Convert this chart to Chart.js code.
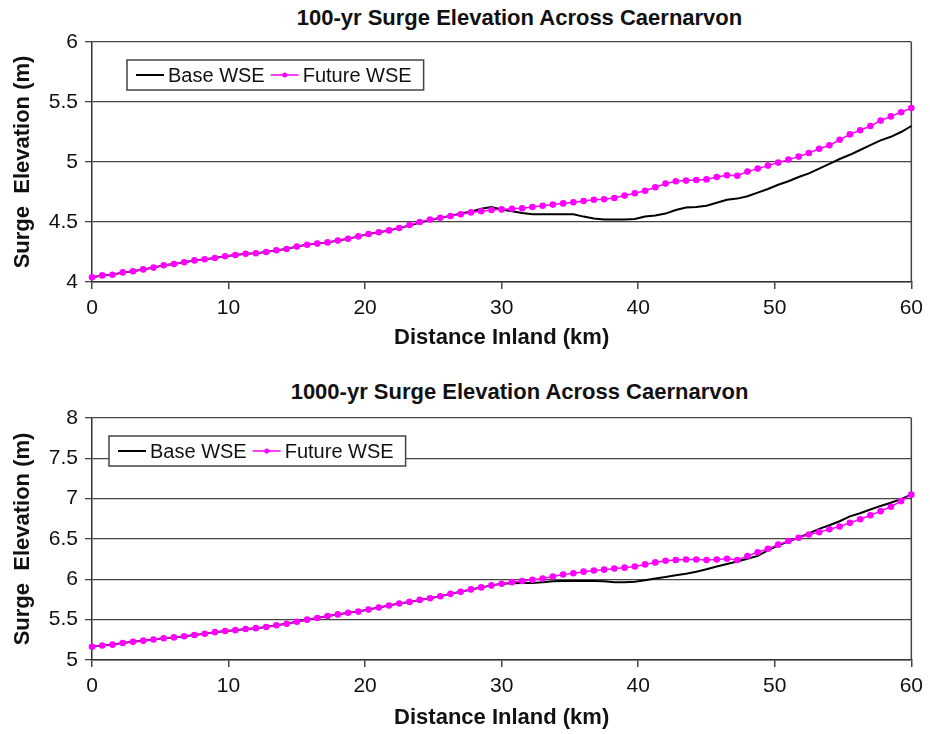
<!DOCTYPE html>
<html>
<head>
<meta charset="utf-8">
<script src="https://cdn.jsdelivr.net/npm/chart.js@4.4.0/dist/chart.umd.min.js"></script>
<style>
	html, body { margin: 0; padding: 0; background: #fff; overflow: hidden; }
	#page { position: relative; width: 930px; height: 734px; }
	.chart-title {
		position: absolute; left: 119px; width: 801px; text-align: center;
		font: bold 22px "Liberation Sans", Arial, sans-serif; line-height: 26px; color: #111;
	}
	canvas { position: absolute; left: 0; }
</style>
</head>
<body>
<div id="page">
	<div class="chart-title" style="top:5px">100-yr Surge Elevation Across Caernarvon</div>
	<canvas id="chart100" width="930" height="352" style="top:0"></canvas>
	<div class="chart-title" style="top:379px">1000-yr Surge Elevation Across Caernarvon</div>
	<canvas id="chart1000" width="930" height="369" style="top:365px"></canvas>
</div>
<script>
// distance inland (km) of each sample along the transect
var distanceKm = [
	0, 0.75, 1.5, 2.25, 3, 3.75, 4.5, 5.25, 6, 6.75,
	7.5, 8.25, 9, 9.75, 10.5, 11.25, 12, 12.75, 13.5, 14.25,
	15, 15.75, 16.5, 17.25, 18, 18.75, 19.5, 20.25, 21, 21.75,
	22.5, 23.25, 24, 24.75, 25.5, 26.25, 27, 27.75, 28.5, 29.25,
	30, 30.75, 31.5, 32.25, 33, 33.75, 34.5, 35.25, 36, 36.75,
	37.5, 38.25, 39, 39.75, 40.5, 41.25, 42, 42.75, 43.5, 44.25,
	45, 45.75, 46.5, 47.25, 48, 48.75, 49.5, 50.25, 51, 51.75,
	52.5, 53.25, 54, 54.75, 55.5, 56.25, 57, 57.75, 58.5, 59.25,
	60
];

// 100-yr surge elevation (m)
var base100 = [
	4.04, 4.055, 4.06, 4.08, 4.09, 4.105, 4.12, 4.14, 4.15, 4.165,
	4.18, 4.19, 4.20, 4.215, 4.225, 4.235, 4.24, 4.25, 4.265, 4.275,
	4.295, 4.31, 4.32, 4.33, 4.345, 4.36, 4.38, 4.40, 4.415, 4.43,
	4.45, 4.47, 4.495, 4.515, 4.535, 4.55, 4.57, 4.585, 4.61, 4.625,
	4.605, 4.59, 4.575, 4.565, 4.565, 4.565, 4.565, 4.565, 4.545, 4.53,
	4.52, 4.52, 4.52, 4.525, 4.545, 4.555, 4.57, 4.60, 4.62, 4.625,
	4.635, 4.66, 4.685, 4.695, 4.715, 4.745, 4.775, 4.81, 4.84, 4.875,
	4.905, 4.945, 4.985, 5.025, 5.06, 5.10, 5.14, 5.18, 5.21, 5.25,
	5.30
];
var future100 = [
	4.04, 4.055, 4.06, 4.08, 4.09, 4.105, 4.12, 4.14, 4.15, 4.165,
	4.18, 4.19, 4.20, 4.215, 4.225, 4.235, 4.24, 4.25, 4.265, 4.275,
	4.295, 4.31, 4.32, 4.33, 4.345, 4.36, 4.38, 4.40, 4.415, 4.43,
	4.45, 4.475, 4.50, 4.52, 4.535, 4.55, 4.565, 4.58, 4.59, 4.60,
	4.605, 4.61, 4.615, 4.625, 4.635, 4.645, 4.655, 4.665, 4.675, 4.685,
	4.69, 4.70, 4.72, 4.74, 4.76, 4.79, 4.82, 4.84, 4.845, 4.85,
	4.855, 4.875, 4.89, 4.885, 4.92, 4.945, 4.97, 4.995, 5.02, 5.045,
	5.075, 5.11, 5.14, 5.185, 5.23, 5.265, 5.30, 5.345, 5.38, 5.415,
	5.45
];

// 1000-yr surge elevation (m)
var base1000 = [
	5.165, 5.18, 5.19, 5.21, 5.225, 5.24, 5.255, 5.27, 5.28, 5.295,
	5.31, 5.325, 5.345, 5.36, 5.37, 5.385, 5.395, 5.41, 5.43, 5.45,
	5.475, 5.50, 5.52, 5.545, 5.565, 5.585, 5.60, 5.625, 5.65, 5.675,
	5.70, 5.72, 5.745, 5.765, 5.79, 5.82, 5.845, 5.875, 5.90, 5.925,
	5.945, 5.95, 5.955, 5.955, 5.965, 5.975, 5.98, 5.98, 5.98, 5.98,
	5.975, 5.965, 5.965, 5.97, 5.99, 6.01, 6.03, 6.05, 6.07, 6.095,
	6.125, 6.16, 6.19, 6.22, 6.255, 6.29, 6.36, 6.42, 6.47, 6.515,
	6.57, 6.625, 6.67, 6.72, 6.78, 6.82, 6.865, 6.91, 6.95, 6.995,
	7.05
];
var future1000 = [
	5.165, 5.18, 5.19, 5.21, 5.225, 5.24, 5.255, 5.27, 5.28, 5.295,
	5.31, 5.325, 5.345, 5.36, 5.37, 5.385, 5.395, 5.41, 5.43, 5.45,
	5.475, 5.50, 5.52, 5.545, 5.565, 5.585, 5.60, 5.625, 5.65, 5.675,
	5.70, 5.72, 5.745, 5.765, 5.79, 5.82, 5.845, 5.875, 5.90, 5.925,
	5.945, 5.965, 5.98, 5.995, 6.01, 6.035, 6.06, 6.075, 6.095, 6.11,
	6.12, 6.135, 6.145, 6.16, 6.185, 6.21, 6.23, 6.24, 6.245, 6.245,
	6.24, 6.245, 6.255, 6.24, 6.29, 6.335, 6.38, 6.43, 6.475, 6.515,
	6.555, 6.585, 6.62, 6.655, 6.70, 6.745, 6.795, 6.845, 6.90, 6.97,
	7.05
];

var xTicks = [0, 60, 10];   // min, max, step
var seriesNames = ['Base WSE', 'Future WSE'];

var FONT = "'Liberation Sans', Arial, sans-serif";
Chart.defaults.font.family = FONT;
Chart.defaults.color = '#111';

// right edge of the plot frame (Excel draws a full box)
var plotFrame = {
	id: 'plotFrame',
	beforeDatasetsDraw: function(chart) {
		var a = chart.chartArea, ctx = chart.ctx;
		ctx.save();
		ctx.strokeStyle = '#444';
		ctx.lineWidth = 1.5;
		ctx.beginPath();
		ctx.moveTo(a.right, a.top);
		ctx.lineTo(a.right, a.bottom);
		ctx.stroke();
		ctx.restore();
	}
};

// boxed legend sitting inside the plot area
var insetLegend = {
	id: 'insetLegend',
	afterDatasetsDraw: function(chart, args, opts) {
		var a = chart.chartArea, ctx = chart.ctx;
		var sets = chart.data.datasets;
		var padL = 9, padR = 12, sample = 28, gap = 4, itemGap = 6, h = 30;
		ctx.save();
		ctx.font = '20px ' + FONT;
		var w = padL + padR;
		for(var i = 0; i < sets.length; i++) {
			w += sample + gap + ctx.measureText(sets[i].label).width;
			if(i < sets.length - 1) w += itemGap;
		}
		var x = a.left + opts.left, y = a.top + opts.top;
		ctx.fillStyle = '#fff';
		ctx.fillRect(x, y, w, h);
		ctx.strokeStyle = '#444';
		ctx.lineWidth = 1.5;
		ctx.strokeRect(x, y, w, h);
		var cx = x + padL, cy = y + h / 2;
		for(var j = 0; j < sets.length; j++) {
			var ds = sets[j];
			ctx.strokeStyle = ds.borderColor;
			ctx.lineWidth = ds.borderWidth;
			ctx.beginPath();
			ctx.moveTo(cx, cy);
			ctx.lineTo(cx + sample, cy);
			ctx.stroke();
			if(ds.pointRadius) {
				ctx.fillStyle = ds.pointBackgroundColor;
				ctx.beginPath();
				ctx.arc(cx + sample / 2, cy, 2.5, 0, Math.PI * 2);
				ctx.fill();
			}
			cx += sample + gap;
			ctx.fillStyle = '#111';
			ctx.textBaseline = 'middle';
			ctx.fillText(ds.label, cx, cy + 1);
			cx += ctx.measureText(ds.label).width + itemGap;
		}
		ctx.restore();
	}
};

function points(ys) {
	return distanceKm.map(function(d, i) { return {x: d, y: ys[i]}; });
}

function buildChart(id, o) {
	return new Chart(document.getElementById(id), {
		type: 'line',
		data: {
			datasets: [{
				label: seriesNames[0],
				data: points(o.base),
				borderColor: '#000',
				borderWidth: 2,
				pointRadius: 0,
				order: 2,
				clip: false
			}, {
				label: seriesNames[1],
				data: points(o.future),
				borderColor: '#ff00ff',
				borderWidth: 1.5,
				pointRadius: 3.3,
				pointBorderWidth: 0,
				pointBackgroundColor: '#ff00ff',
				order: 1,
				clip: false
			}]
		},
		options: {
			responsive: false,
			animation: false,
			events: [],
			layout: {padding: {top: o.padTop, right: 15, left: 0, bottom: 0}},
			plugins: {
				legend: {display: false},
				tooltip: {enabled: false},
				insetLegend: {left: o.legendLeft, top: o.legendTop}
			},
			scales: {
				x: {
					type: 'linear',
					min: xTicks[0],
					max: xTicks[1],
					afterFit: function(s) { s.height = o.axisH; },
					ticks: {stepSize: xTicks[2], padding: 7, font: {size: 21}, color: '#111'},
					grid: {drawOnChartArea: false, drawTicks: true, tickLength: 7, color: '#444', lineWidth: 1.5},
					border: {color: '#333', width: 1.5},
					title: {
						display: true,
						text: 'Distance Inland (km)',
						font: {size: 22, weight: 'bold'},
						color: '#111',
						padding: {top: 0, bottom: o.titlePad}
					}
				},
				y: {
					min: o.yMin,
					max: o.yMax,
					afterFit: function(s) { s.width = 92; },
					ticks: {
						stepSize: 0.5, padding: 7, font: {size: 21}, color: '#111',
						callback: function(v) { return String(v); }
					},
					grid: {color: '#444', lineWidth: 1.3, tickLength: 7},
					border: {color: '#333', width: 1.5},
					title: {
						display: true,
						text: 'Surge  Elevation (m)',
						font: {size: 22, weight: 'bold'},
						color: '#111',
						padding: {top: 10, bottom: 0}
					}
				}
			}
		},
		plugins: [plotFrame, insetLegend]
	});
}

buildChart('chart100', {
	base: base100, future: future100, yMin: 4, yMax: 6,
	padTop: 42, axisH: 70, titlePad: 1, legendLeft: 35, legendTop: 18
});
buildChart('chart1000', {
	base: base1000, future: future1000, yMin: 5, yMax: 8,
	padTop: 53, axisH: 74, titlePad: 3, legendLeft: 17, legendTop: 18
});
</script>
</body>
</html>
